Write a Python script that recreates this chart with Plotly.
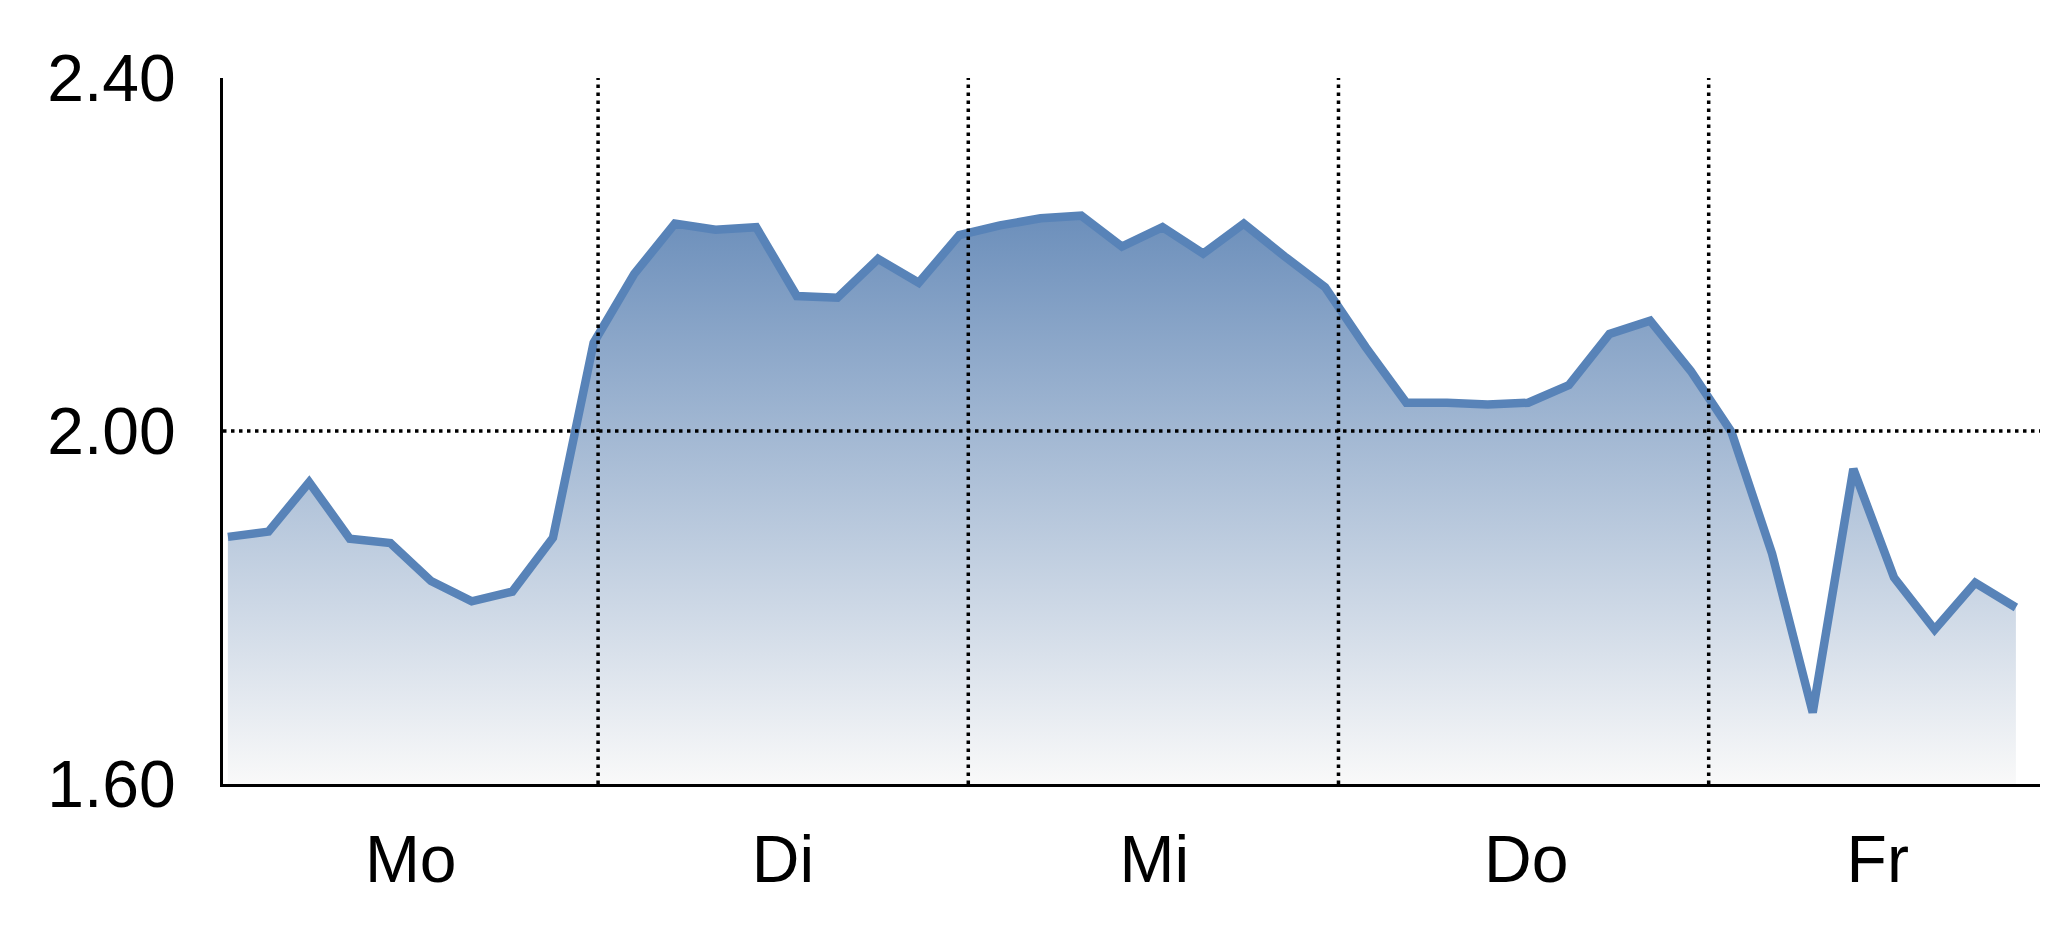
import plotly.graph_objects as go

# Wochenverlauf, ein Wert je Messpunkt (Mo bis Fr)
point_index = list(range(45))
values = [
    1.880, 1.886, 1.942, 1.878, 1.873, 1.830, 1.807, 1.818, 1.879, 2.100,
    2.178, 2.235, 2.228, 2.231, 2.153, 2.151, 2.195, 2.168, 2.222, 2.233,
    2.241, 2.244, 2.209, 2.231, 2.201, 2.235, 2.198, 2.163, 2.095, 2.032,
    2.032, 2.030, 2.032, 2.052, 2.110, 2.125, 2.068, 1.999, 1.861, 1.681,
    1.957, 1.834, 1.775, 1.828, 1.800,
]

day_labels = ['Mo', 'Di', 'Mi', 'Do', 'Fr']
day_label_pos = [4.5, 13.66, 22.8, 31.95, 40.6]
day_bounds = [9.11, 18.22, 27.33, 36.44]

y_ticks = [1.60, 2.00, 2.40]
y_tick_text = ['1.60', '2.00', '2.40']
ref_level = 2.00

x_range = [-0.12, 44.79]
y_range = [1.60, 2.40]

FONT = 'Liberation Sans, Arial, Helvetica, sans-serif'
DOTTED = dict(color='black', width=3.5, dash='3.5px,4.5px')

fig = go.Figure()

fig.add_trace(go.Scatter(
    x=point_index,
    y=values,
    mode='lines',
    line=dict(color='rgb(88, 131, 184)', width=8.5),
    fill='tozeroy',
    fillgradient=dict(
        type='vertical',
        colorscale=[[0, 'rgb(249, 249, 249)'], [1, 'rgb(108, 143, 187)']],
        start=y_range[0],
        stop=max(values),
    ),
    hoverinfo='skip',
    showlegend=False,
))

# dotted day separators and reference level, drawn over the area
for b in day_bounds:
    fig.add_shape(type='line', x0=b, x1=b, y0=0, y1=1, yref='paper',
                  line=DOTTED, layer='above')
fig.add_shape(type='line', x0=0, x1=1, xref='paper', y0=ref_level, y1=ref_level,
              line=DOTTED, layer='above')

# page body has an 8px margin, so the figure is sized to fit without scrollbars
fig.update_layout(
    width=2040,
    height=905,
    margin=dict(l=215, r=0, t=70, b=129),
    paper_bgcolor='white',
    plot_bgcolor='white',
    font=dict(family=FONT, size=66, color='black'),
    showlegend=False,
)

fig.update_xaxes(
    range=x_range,
    tickmode='array',
    tickvals=day_label_pos,
    ticktext=day_labels,
    ticks='',
    showgrid=False,
    zeroline=False,
    showline=True,
    linecolor='black',
    linewidth=3,
    ticklabelstandoff=16,
)

fig.update_yaxes(
    range=y_range,
    tickmode='array',
    tickvals=y_ticks,
    ticktext=y_tick_text,
    ticks='',
    showgrid=False,
    zeroline=False,
    showline=True,
    linecolor='black',
    linewidth=3,
    ticklabelstandoff=31,
)

fig.write_html("out.html")
